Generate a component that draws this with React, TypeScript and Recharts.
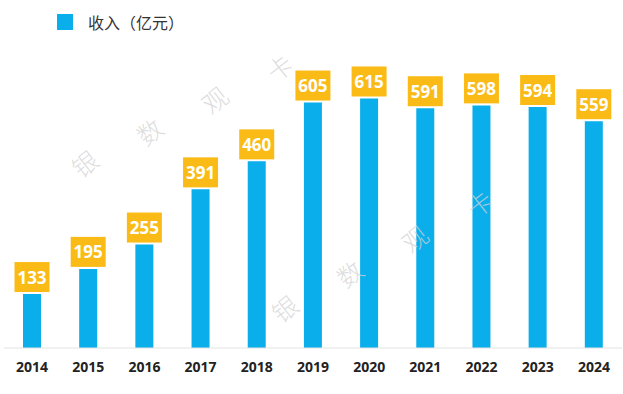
import { BarChart, Bar, XAxis, YAxis, LabelList } from 'recharts';

const years = ['2014', '2015', '2016', '2017', '2018', '2019', '2020', '2021', '2022', '2023', '2024'];
const revenue = [133, 195, 255, 391, 460, 605, 615, 591, 598, 594, 559];
const seriesName = '收入（亿元）';
const watermarkChars = ['银', '数', '观', '卡'];

const data = years.map((year, i) => ({ year, revenue: revenue[i] }));

const BAR_COLOR = '#0AAEEB';
const LABEL_BG = '#FBBB17';

const ValueBox = (props: any) => {
  const { x, y, width, value } = props;
  const cx = x + width / 2;
  const w = 35;
  const h = 30;
  const bottom = y - 2;
  return (
    <g>
      <rect x={cx - w / 2} y={bottom - h} width={w} height={h} fill={LABEL_BG} />
      <text
        x={cx}
        y={bottom - h / 2}
        textAnchor="middle"
        dominantBaseline="central"
        fill="#fff"
        fontFamily="'Open Sans', sans-serif"
        fontWeight={700}
        fontSize={17}
      >
        {value}
      </text>
    </g>
  );
};

const Watermark = () => {
  const groups = [
    { x0: 84, y0: 163, dx: 65, dy: -32 },
    { x0: 284, y0: 308, dx: 65, dy: -35 },
  ];
  return (
    <svg
      width={623}
      height={394}
      style={{ position: 'absolute', left: 0, top: 0, pointerEvents: 'none' }}
    >
      {groups.map((g, gi) =>
        watermarkChars.map((ch, i) => {
          const x = g.x0 + g.dx * i;
          const y = g.y0 + g.dy * i;
          return (
            <text
              key={`${gi}-${i}`}
              x={x}
              y={y}
              textAnchor="middle"
              dominantBaseline="central"
              fill="#d2d2d2"
              fillOpacity={0.75}
              fontSize={25}
              fontWeight={300}
              fontFamily="'Noto Sans CJK SC', sans-serif"
              transform={`rotate(-38 ${x} ${y})`}
            >
              {ch}
            </text>
          );
        })
      )}
    </svg>
  );
};

export default function App() {
  return (
    <div style={{ position: 'absolute', left: 0, top: 0, width: 623, height: 394, background: '#fff' }}>
      <div
        style={{
          position: 'absolute',
          left: 57,
          top: 10,
          display: 'flex',
          alignItems: 'center',
          fontFamily: "'Noto Sans CJK SC', sans-serif",
          fontSize: 16,
          color: '#333',
        }}
      >
        <span style={{ display: 'inline-block', width: 16, height: 16, background: BAR_COLOR, marginRight: 15 }} />
        <span>{seriesName}</span>
      </div>
      <BarChart
        width={623}
        height={394}
        data={data}
        margin={{ top: 64, right: 1, bottom: 16, left: 4 }}
        barCategoryGap={0}
      >
        <YAxis hide domain={[0, 700]} />
        <XAxis
          dataKey="year"
          axisLine={{ stroke: '#e3e3e3' }}
          tickLine={false}
          height={30}
          tickMargin={8}
          tick={{ fill: '#222', fontSize: 14, fontWeight: 700, fontFamily: "'Open Sans', sans-serif" }}
          interval={0}
        />
        <Bar dataKey="revenue" fill={BAR_COLOR} barSize={18} isAnimationActive={false}>
          <LabelList dataKey="revenue" content={<ValueBox />} />
        </Bar>
      </BarChart>
      <Watermark />
    </div>
  );
}
